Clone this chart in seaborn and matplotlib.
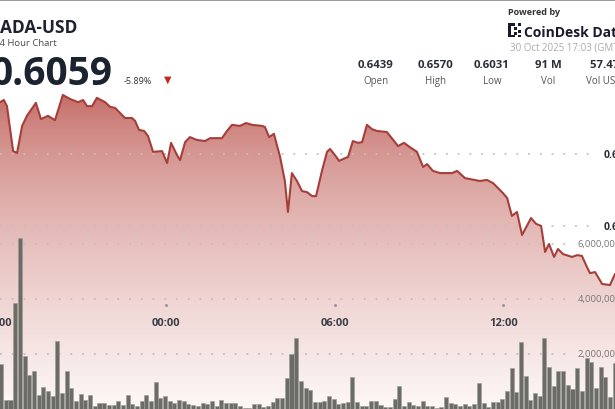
import numpy as np
import matplotlib
matplotlib.use("Agg")
import matplotlib.pyplot as plt
import seaborn as sns
from matplotlib.lines import Line2D
from matplotlib.patches import Rectangle
from matplotlib.transforms import blended_transform_factory

# price line: hours from midnight (previous evening is negative), price in USD
price_hours = [-5.91, -5.77, -5.66, -5.44, -5.30, -5.12, -4.95, -4.63, -4.45, -4.20,
               -3.95, -3.67, -3.42, -3.13, -2.95, -2.81, -2.63, -2.46, -2.17, -1.99,
               -1.81, -1.46, -1.21, -1.10, -0.96, -0.78, -0.64, -0.46, -0.14, 0.04,
               0.18, 0.39, 0.50, 0.68, 0.85, 1.10, 1.39, 1.57, 1.99, 2.17,
               2.35, 2.63, 2.85, 3.06, 3.42, 3.52, 3.67, 3.84, 4.06, 4.23,
               4.34, 4.48, 4.66, 4.84, 5.02, 5.20, 5.34, 5.55, 5.73, 5.84,
               6.01, 6.16, 6.48, 6.65, 6.83, 6.98, 7.15, 7.33, 7.51, 7.86,
               8.26, 8.47, 8.68, 8.93, 9.15, 9.29, 9.50, 9.75, 10.18, 10.36,
               10.64, 11.17, 11.42, 11.64, 11.96, 12.14, 12.31, 12.49, 12.67, 12.99,
               13.17, 13.35, 13.49, 13.63, 13.81, 13.95, 14.13, 14.45, 14.63, 14.80,
               14.98, 15.09, 15.27, 15.52, 15.80, 15.98]
price_values = [0.6544, 0.6550, 0.6533, 0.6408, 0.6403, 0.6478, 0.6506, 0.6542, 0.6497, 0.6506,
                0.6494, 0.6564, 0.6553, 0.6544, 0.6550, 0.6533, 0.6533, 0.6556, 0.6544, 0.6531,
                0.6528, 0.6500, 0.6500, 0.6492, 0.6467, 0.6464, 0.6450, 0.6406, 0.6408, 0.6375,
                0.6431, 0.6397, 0.6383, 0.6433, 0.6447, 0.6439, 0.6436, 0.6444, 0.6444, 0.6464,
                0.6481, 0.6478, 0.6486, 0.6481, 0.6478, 0.6475, 0.6447, 0.6456, 0.6392, 0.6325,
                0.6239, 0.6347, 0.6325, 0.6297, 0.6294, 0.6283, 0.6283, 0.6353, 0.6406, 0.6414,
                0.6397, 0.6381, 0.6392, 0.6436, 0.6431, 0.6433, 0.6481, 0.6469, 0.6464, 0.6461,
                0.6422, 0.6431, 0.6419, 0.6406, 0.6364, 0.6372, 0.6353, 0.6347, 0.6347, 0.6353,
                0.6333, 0.6325, 0.6328, 0.6319, 0.6294, 0.6278, 0.6228, 0.6239, 0.6175, 0.6222,
                0.6206, 0.6200, 0.6128, 0.6150, 0.6114, 0.6136, 0.6122, 0.6114, 0.6119, 0.6117,
                0.6086, 0.6069, 0.6072, 0.6039, 0.6036, 0.6067]

# 10 minute volume bars, in millions of ADA, first bar at about 18:08
volume_millions = [1.64, 0.34, 0.34, 3.86, 6.22, 1.94, 1.24, 1.37, 0.52, 0.79,
                   0.67, 0.49, 2.46, 0.58, 1.39, 0.75, 0.30, 0.55, 0.33, 0.51,
                   0.12, 0.21, 0.21, 0.15, 0.15, 0.28, 0.15, 0.51, 0.18, 0.10,
                   0.30, 0.52, 0.30, 0.97, 0.40, 0.49, 0.28, 0.22, 0.33, 0.30,
                   0.18, 0.16, 0.12, 0.22, 0.20, 0.28, 0.12, 0.34, 0.21, 0.21,
                   0.21, 0.10, 0.02, 0.04, 0.18, 0.18, 0.09, 0.12, 0.24, 0.40,
                   0.40, 1.12, 2.00, 2.58, 1.03, 0.75, 0.69, 0.27, 0.27, 0.30,
                   0.46, 0.36, 0.18, 0.22, 0.27, 1.18, 0.24, 0.12, 0.12, 0.30,
                   0.30, 0.15, 0.09, 0.06, 0.36, 0.85, 0.12, 0.24, 0.16, 0.12,
                   0.28, 0.12, 0.10, 0.02, 0.06, 0.42, 0.21, 0.18, 0.12, 0.18,
                   0.12, 0.18, 0.93, 0.21, 0.06, 0.27, 0.27, 0.36, 0.67, 1.48,
                   0.61, 2.42, 1.21, 0.33, 0.57, 0.49, 2.57, 1.54, 0.85, 1.39,
                   1.37, 0.87, 0.73, 1.48, 0.67, 1.84, 1.72, 0.75, 1.52, 1.18,
                   0.45, 1.66]
first_bar_hour = -6 + 8 / 60
bar_step_hour = 10 / 60

time_ticks = [-6, 0, 6, 12]
time_labels = ["18:00", "00:00", "06:00", "12:00"]
price_ticks = [0.64, 0.62]
volume_ticks = [6e6, 4e6, 2e6]

stat_values = ["0.6439", "0.6570", "0.6031", "91 M", "57.47 M"]
stat_labels = ["Open", "High", "Low", "Vol", "Vol USD"]

sns.set_style("white")
plt.rcParams['font.family'] = ['Open Sans', 'DejaVu Sans']

W, H = 615, 410
fig = plt.figure(figsize=(W / 100, H / 100), dpi=100)


def fx(x):
    return x / W


def fy(y):
    return 1 - y / H


# chart area: top at y=88 px, bottom at the image edge
x_range = (-166 / 28.1, (W - 166) / 28.1)
price_range = (0.64 - 255 / 3600, 0.64 + 67 / 3600)
volume_range = (0, 322 / 55 * 2e6)

ax = fig.add_axes([0, 0, 1, fy(88)])
vax = fig.add_axes([0, 0, 1, fy(88)])

# price line and gradient fill below it
sns.lineplot(x=price_hours, y=price_values, ax=ax, color="#a63e39", linewidth=1.5, zorder=3)
area = ax.fill_between(price_hours, price_values, price_range[0], facecolor="none", edgecolor="none")
top_col = np.array([190, 92, 86]) / 255
bot_col = np.array([253, 248, 247]) / 255
t = np.linspace(0, 1, 300) ** 0.62
grad = top_col[None, :] * (1 - t[:, None]) + bot_col[None, :] * t[:, None]
im = ax.imshow(grad[:, None, :], extent=[x_range[0], x_range[1], price_range[0], price_range[1]],
               aspect="auto", origin="upper", zorder=1)
im.set_clip_path(area.get_paths()[0], ax.transData)
ax.set_xlim(*x_range)
ax.set_ylim(*price_range)

# dotted grid, light grey so it reads lighter on the red fill and grey on white
dots = (0, (1, 5.5))
grid_col = "#c6bebe"
for p in price_ticks:
    ax.axhline(p, xmin=0, xmax=597 / W, color=grid_col, lw=1.3, ls=dots, zorder=2)

# volume bars
bar_hours = [first_bar_hour + i * bar_step_hour for i in range(len(volume_millions))]
sns.barplot(x=bar_hours, y=[v * 1e6 for v in volume_millions], ax=vax, native_scale=True,
            color="#6a6c65", edgecolor="#9c9c98", linewidth=0.4, width=0.86,
            saturation=1, errorbar=None, zorder=3)
for v in volume_ticks:
    vax.axhline(v, xmin=0, xmax=575 / W, color=grid_col, lw=1.3, ls=dots, zorder=1)
vax.set_xlim(*x_range)
vax.set_ylim(*volume_range)
ax.set_axis_off()
vax.set_axis_off()

# axis labels drawn inside the plot
tx = blended_transform_factory(ax.transData, fig.transFigure)
for h, lab in zip(time_ticks, time_labels):
    fig.text(h, fy(326), lab, transform=tx, ha="center", va="baseline",
             fontsize=8, fontweight="bold", color="#3b3f48")
ax.plot(time_ticks, [fy(306)] * len(time_ticks), transform=tx, ls="none",
        marker="o", ms=1.2, color="#a09898", clip_on=False)

ty = blended_transform_factory(fig.transFigure, ax.transData)
for p in price_ticks:
    fig.text(fx(604), p, f"{p:.2f}", transform=ty, va="center", ha="left",
             fontsize=7.5, fontweight="bold", color="#2a2e36")
tv = blended_transform_factory(fig.transFigure, vax.transData)
for v in volume_ticks:
    fig.text(fx(578), v, f"{v:,.0f}", transform=tv, va="center", ha="left",
             fontsize=6.8, color="#7a7676")

# header
fig.add_artist(Line2D([0, 1], [fy(0.6), fy(0.6)], color="#9a9a9a", lw=1.4))
fig.text(fx(0), fy(33), "ADA-USD", fontsize=12.5, fontweight="bold", color="#1d2330", va="baseline")
fig.text(fx(-6), fy(46), "24 Hour Chart", fontsize=6.8, color="#4a4a4a", va="baseline")
fig.text(fx(-9), fy(85), "0.6059", fontsize=28, fontweight="bold", color="#1b2230", va="baseline")
fig.text(fx(124), fy(84), "-5.89%", fontsize=6.5, color="#333333", va="baseline")
fig.text(fx(168), fy(80), "▼", fontsize=7, color="#c62a1f", ha="center", va="center",
         family="DejaVu Sans")

fig.text(fx(508), fy(15), "Powered by", fontsize=6.5, fontweight="bold", color="#333333", va="baseline")
for (x0, y0, w, h) in [(508, 24, 3, 14), (508, 24, 7, 2.5), (508, 35.5, 7, 2.5),
                       (514, 28, 2.5, 2.5), (518, 24, 2.5, 2.5), (518, 31, 2.5, 2.5),
                       (514, 33, 2.5, 2.5), (518, 35.5, 2.5, 2.5)]:
    fig.add_artist(Rectangle((fx(x0), fy(y0 + h)), w / W, h / H, transform=fig.transFigure,
                             color="#1a1a2e", lw=0))
fig.text(fx(524), fy(37), "CoinDesk Data", fontsize=10, fontweight="bold", color="#1a1a2e", va="baseline")
fig.text(fx(510), fy(51), "30 Oct 2025 17:03 (GMT)", fontsize=7, color="#ababab", va="baseline")

for cx, val, lab in zip([376, 436, 492, 548], stat_values[:4], stat_labels[:4]):
    fig.text(fx(cx), fy(68), val, fontsize=8.2, fontweight="bold", color="#2a2e36",
             ha="center", va="baseline")
    fig.text(fx(cx), fy(84), lab, fontsize=7, color="#555555", ha="center", va="baseline")
fig.text(fx(590), fy(68), stat_values[4], fontsize=8.2, fontweight="bold", color="#2a2e36",
         ha="left", va="baseline")
fig.text(fx(586), fy(84), stat_labels[4], fontsize=7, color="#555555", ha="left", va="baseline")

fig.savefig("out.png", dpi=100)
